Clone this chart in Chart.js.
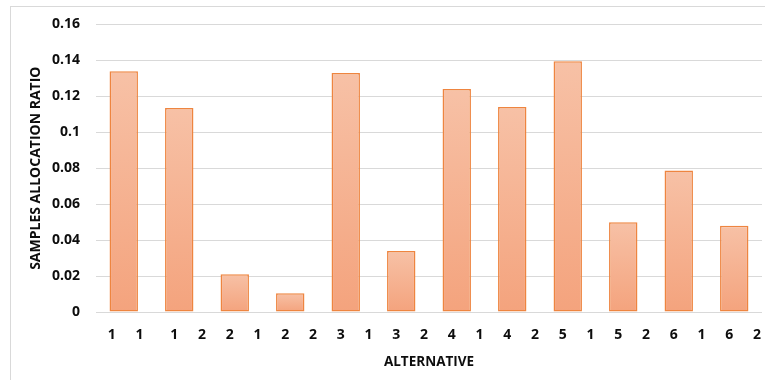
<!DOCTYPE html>
<html>
<head>
<meta charset="utf-8">
<script src="https://cdn.jsdelivr.net/npm/chart.js@4/dist/chart.umd.min.js"></script>
<style>
  html, body { margin: 0; padding: 0; background: #fff; }
  #frame { position: absolute; left: 10px; top: 6px; width: 820px; height: 420px; border: 1px solid #d9d9d9; }
  #chart { position: absolute; left: 0; top: 0; }
</style>
</head>
<body>
<div id="frame"></div>
<canvas id="chart" width="765" height="380"></canvas>
<script>
// Alternative / system index of each bar
const alternatives = ['1', '1', '2', '2', '3', '3', '4', '4', '5', '5', '6', '6'];
const systems      = ['1', '2', '1', '2', '1', '2', '1', '2', '1', '2', '1', '2'];
// Share of samples allocated to each (alternative, system) pair
const ratios = [0.134, 0.1135, 0.021, 0.0105, 0.133, 0.034, 0.124, 0.114, 0.1395, 0.050, 0.0787, 0.048];
// Value axis ticks
const yTicks = [0, 0.02, 0.04, 0.06, 0.08, 0.10, 0.12, 0.14, 0.16];

const categories = alternatives.map((a, i) => a + '-' + systems[i]);
// Each category shows its alternative and system digits side by side
const digitLabels = alternatives.flatMap((a, i) => [a, systems[i]]);

const family = "'Open Sans', sans-serif";
const font = { family, weight: 'bold', size: 14 };
const ink = '#0d0d0d';

function barFill(ctx) {
  const chart = ctx.chart;
  const y = chart.scales.y;
  if (!chart.chartArea || !y) return '#f5aa86';
  const top = y.getPixelForValue(ctx.raw);
  const base = y.getPixelForValue(0);
  const g = chart.ctx.createLinearGradient(0, top, 0, base);
  g.addColorStop(0, '#f7c1a6');
  g.addColorStop(1, '#f4a37d');
  return g;
}

new Chart(document.getElementById('chart'), {
  type: 'bar',
  data: {
    labels: categories,
    datasets: [{
      data: ratios,
      xAxisID: 'x',
      backgroundColor: barFill,
      borderColor: '#ee8540',
      borderWidth: 1.5,
      borderSkipped: false,
      categoryPercentage: 0.8,
      barPercentage: 0.64
    }]
  },
  options: {
    responsive: false,
    animation: false,
    layout: { padding: { left: 25, right: 3, top: 15, bottom: 6 } },
    plugins: { legend: { display: false }, tooltip: { enabled: false } },
    scales: {
      x: { type: 'category', display: false, offset: true },
      x2: {
        type: 'category',
        position: 'bottom',
        labels: digitLabels,
        offset: true,
        grid: { display: false },
        border: { display: false },
        afterFit: (s) => { s.height = 62; },
        ticks: {
          font, color: ink, padding: 7, labelOffset: 9,
          maxRotation: 0, autoSkip: false,
          // the first pair sits slightly further left than the rest
          callback: (v, i) => i < 2 ? digitLabels[i] + '\u2003' : digitLabels[i]
        },
        title: { display: true, text: 'ALTERNATIVE', font: { family, weight: 'bold', size: 13.5 }, color: ink, padding: { top: 0, bottom: 4 } }
      },
      y: {
        min: yTicks[0],
        max: yTicks[yTicks.length - 1],
        afterBuildTicks: (scale) => { scale.ticks = yTicks.map(v => ({ value: v })); },
        afterFit: (s) => { s.width = 71; },
        grid: { color: '#d9d9d9', lineWidth: 1, drawTicks: false },
        border: { display: false },
        ticks: {
          font, color: ink, padding: 16,
          callback: (v) => String(+Number(v).toFixed(2))
        },
        title: { display: true, text: 'SAMPLES ALLOCATION RATIO', font: { family, weight: 'bold', size: 14 }, color: ink, padding: { top: 3, bottom: 0 } }
      }
    }
  }
});
</script>
</body>
</html>
